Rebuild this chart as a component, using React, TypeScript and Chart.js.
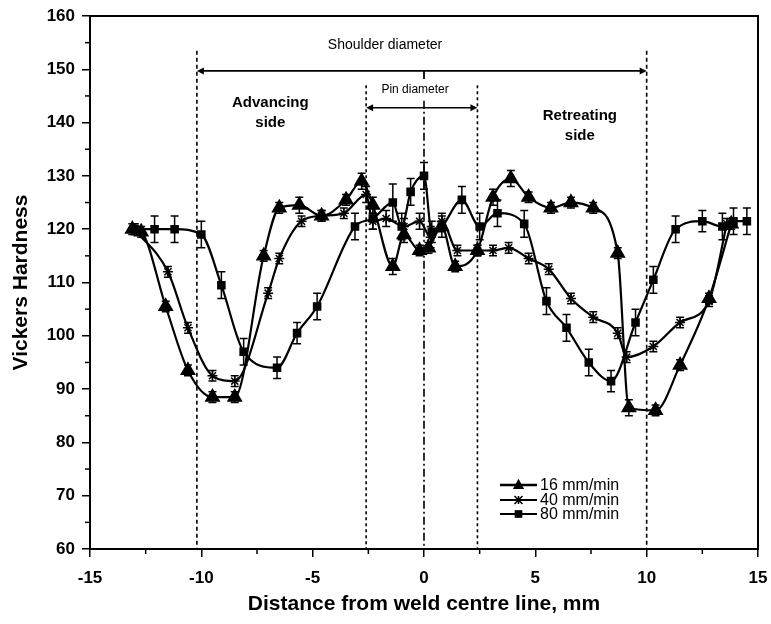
import React, { useEffect, useRef } from 'react';
import { Chart, registerables } from 'chart.js';

Chart.register(...registerables);

// ---- Data ----
const dist16 = [-13.1, -12.7, -11.6, -10.6, -9.5, -8.5, -7.2, -6.5, -5.6, -4.6, -3.5, -2.8, -2.3, -1.4, -0.9, -0.2, 0.2, 0.8, 1.4, 2.4, 3.1, 3.9, 4.7, 5.7, 6.6, 7.6, 8.7, 9.2, 10.4, 11.5, 12.8, 13.8];
const hv16 = [120, 119.5, 105.5, 93.5, 88.5, 88.5, 115, 124, 124.5, 122.5, 125.5, 129, 124.5, 113, 119, 116, 116.5, 120.5, 113, 116, 126, 129.5, 126, 124, 125, 124, 115.5, 86.5, 86, 94.5, 107, 121];
const sd16 = [1, 1, 1, 1, 1, 1, 1, 1, 1.5, 1, 1, 1.5, 1.5, 1.5, 1.5, 1, 1, 1, 1, 1, 1.5, 1.5, 1, 1, 1, 1, 1, 1.5, 1, 1, 1, 1];

const dist40 = [-13.0, -11.5, -10.6, -9.5, -8.5, -7.0, -6.5, -5.5, -4.6, -3.6, -2.6, -2.3, -1.7, -0.9, -0.2, 0.3, 0.8, 1.5, 2.4, 3.1, 3.8, 4.7, 5.6, 6.6, 7.6, 8.7, 9.1, 10.3, 11.5, 12.8, 13.6];
const hv40 = [120, 112, 101.5, 92.5, 91.5, 108, 114.5, 121.5, 122.5, 123, 126.5, 121.5, 122, 120.5, 121.5, 118.5, 121.5, 116, 116, 116, 116.5, 114.5, 112.5, 107, 103.5, 100.5, 96, 98, 102.5, 106.5, 121];
const sd40 = [1, 1, 1, 1, 1, 1, 1, 1, 1, 1, 1.5, 1.5, 1.5, 1.5, 1.5, 2, 1.5, 1, 1, 1, 1, 1, 1, 1, 1, 1, 1, 1, 1, 1, 1];

const dist80 = [-13.0, -12.1, -11.2, -10.0, -9.1, -8.1, -6.6, -5.7, -4.8, -3.1, -2.3, -1.4, -1.0, -0.6, 0.0, 0.35, 0.8, 1.7, 2.5, 3.3, 4.5, 5.5, 6.4, 7.4, 8.4, 9.5, 10.3, 11.3, 12.5, 13.4, 13.9, 14.5];
const hv80 = [120, 120, 120, 119, 109.5, 97, 94, 100.5, 105.5, 120.5, 122, 125, 120.5, 127, 130, 119.5, 120.5, 125.5, 120.5, 123, 121, 106.5, 101.5, 95, 91.5, 102.5, 110.5, 120, 121.5, 120.5, 121.5, 121.5];
const sd80 = [1, 2.5, 2.5, 2.5, 2.5, 2.5, 2, 2, 2.5, 2.5, 2, 3.5, 2.5, 2.5, 2.5, 2, 2, 2.5, 2.5, 2.5, 2.5, 2.5, 2.5, 2.5, 2, 2.5, 2.5, 2.5, 2, 2.5, 2.5, 2.5];

const seriesNames = ['16 mm/min', '40 mm/min', '80 mm/min'];

const xTicks = [-15, -10, -5, 0, 5, 10, 15];
const yTicks = [60, 70, 80, 90, 100, 110, 120, 130, 140, 150, 160];

// annotation geometry (data units)
const shoulderEdges = [-10.2, 10];
const pinEdges = [-2.6, 2.4];
const shoulderArrowY = 149.7;
const pinArrowY = 142.8;

const FONT = '"Liberation Sans", Arial, sans-serif';

function toPoints(xs: number[], ys: number[]) {
  return xs.map((x, i) => ({ x, y: ys[i] }));
}

const errorBarPlugin = {
  id: 'errorBars',
  afterDatasetsDraw(chart: any) {
    const { ctx } = chart;
    const ys = chart.scales.y;
    ctx.save();
    ctx.strokeStyle = '#000';
    ctx.lineWidth = 1.5;
    chart.data.datasets.forEach((ds: any, di: number) => {
      const meta = chart.getDatasetMeta(di);
      const errs: number[] = ds.errors || [];
      meta.data.forEach((pt: any, i: number) => {
        const e = errs[i];
        if (!e) return;
        const v = ds.data[i].y;
        const x = pt.x;
        const y1 = ys.getPixelForValue(v + e);
        const y2 = ys.getPixelForValue(v - e);
        ctx.beginPath();
        ctx.moveTo(x, y1); ctx.lineTo(x, y2);
        ctx.moveTo(x - 4, y1); ctx.lineTo(x + 4, y1);
        ctx.moveTo(x - 4, y2); ctx.lineTo(x + 4, y2);
        ctx.stroke();
      });
    });
    ctx.restore();
  },
};

function arrowHead(ctx: CanvasRenderingContext2D, x: number, y: number, dir: number) {
  ctx.beginPath();
  ctx.moveTo(x, y);
  ctx.lineTo(x - dir * 7, y - 3.5);
  ctx.lineTo(x - dir * 7, y + 3.5);
  ctx.closePath();
  ctx.fill();
}

const annotationPlugin = {
  id: 'annotations',
  beforeDatasetsDraw(chart: any) {
    const { ctx } = chart;
    const xs = chart.scales.x;
    const ys = chart.scales.y;
    const px = (v: number) => xs.getPixelForValue(v);
    const py = (v: number) => ys.getPixelForValue(v);
    ctx.save();
    ctx.strokeStyle = '#000';
    ctx.fillStyle = '#000';
    // shoulder dashed verticals
    ctx.lineWidth = 1.6;
    ctx.setLineDash([4, 3]);
    shoulderEdges.forEach((e) => {
      ctx.beginPath();
      ctx.moveTo(px(e), py(153.5));
      ctx.lineTo(px(e), py(60));
      ctx.stroke();
    });
    // pin dashed verticals
    ctx.setLineDash([3, 3]);
    pinEdges.forEach((e) => {
      ctx.beginPath();
      ctx.moveTo(px(e), py(147));
      ctx.lineTo(px(e), py(60));
      ctx.stroke();
    });
    // centre dash-dot line
    ctx.setLineDash([8, 3, 2, 3]);
    ctx.beginPath();
    ctx.moveTo(px(0), py(144.1));
    ctx.lineTo(px(0), py(60));
    ctx.stroke();
    ctx.setLineDash([]);
    // shoulder arrow
    ctx.lineWidth = 1.8;
    ctx.beginPath();
    ctx.moveTo(px(shoulderEdges[0]) + 3, py(shoulderArrowY));
    ctx.lineTo(px(shoulderEdges[1]) - 3, py(shoulderArrowY));
    ctx.stroke();
    arrowHead(ctx, px(shoulderEdges[0]), py(shoulderArrowY), -1);
    arrowHead(ctx, px(shoulderEdges[1]), py(shoulderArrowY), 1);
    ctx.beginPath();
    ctx.moveTo(px(0), py(shoulderArrowY));
    ctx.lineTo(px(0), py(shoulderArrowY) + 8);
    ctx.stroke();
    // pin arrow
    ctx.lineWidth = 1.6;
    ctx.beginPath();
    ctx.moveTo(px(pinEdges[0]) + 3, py(pinArrowY));
    ctx.lineTo(px(pinEdges[1]) - 3, py(pinArrowY));
    ctx.stroke();
    arrowHead(ctx, px(pinEdges[0]), py(pinArrowY), -1);
    arrowHead(ctx, px(pinEdges[1]), py(pinArrowY), 1);
    // texts
    ctx.textAlign = 'center';
    ctx.textBaseline = 'middle';
    ctx.font = `14px ${FONT}`;
    ctx.fillText('Shoulder diameter', px(-1.75), py(154.6));
    ctx.font = `12px ${FONT}`;
    ctx.fillText('Pin diameter', px(-0.4), py(146.1));
    ctx.font = `bold 15px ${FONT}`;
    ctx.fillText('Advancing', px(-6.9), py(143.7));
    ctx.fillText('side', px(-6.9), py(140));
    ctx.fillText('Retreating', px(7.0), py(141.3));
    ctx.fillText('side', px(7.0), py(137.5));
    ctx.restore();
  },
  afterDraw(chart: any) {
    const { ctx, chartArea } = chart;
    const xs = chart.scales.x;
    const ys = chart.scales.y;
    ctx.save();
    ctx.strokeStyle = '#000';
    // frame
    ctx.lineWidth = 2;
    ctx.strokeRect(chartArea.left, chartArea.top, chartArea.right - chartArea.left, chartArea.bottom - chartArea.top);
    // minor ticks
    ctx.lineWidth = 1.5;
    for (let v = 65; v < 160; v += 10) {
      const y = ys.getPixelForValue(v);
      ctx.beginPath();
      ctx.moveTo(chartArea.left - 5, y);
      ctx.lineTo(chartArea.left, y);
      ctx.stroke();
    }
    for (let v = -12.5; v < 15; v += 5) {
      const x = xs.getPixelForValue(v);
      ctx.beginPath();
      ctx.moveTo(x, chartArea.bottom);
      ctx.lineTo(x, chartArea.bottom + 5);
      ctx.stroke();
    }
    // legend
    const ds = chart.data.datasets;
    const lx0 = chartArea.left + 410;
    const lx1 = lx0 + 37;
    const rows = [chartArea.top + 469, chartArea.top + 484, chartArea.top + 498];
    ctx.font = `16px ${FONT}`;
    ctx.textAlign = 'left';
    ctx.textBaseline = 'middle';
    ctx.fillStyle = '#000';
    ds.forEach((d: any, i: number) => {
      const y = rows[i];
      ctx.lineWidth = i === 0 ? 2.5 : 2;
      ctx.beginPath();
      ctx.moveTo(lx0, y);
      ctx.lineTo(lx1, y);
      ctx.stroke();
      drawMarker(ctx, d.pointStyle, (lx0 + lx1) / 2, y, d.pointRadius);
      ctx.fillText(seriesNames[i], lx1 + 3, y + 1);
    });
    ctx.restore();
  },
};

function drawMarker(ctx: CanvasRenderingContext2D, style: string, x: number, y: number, r: number) {
  ctx.save();
  ctx.fillStyle = '#000';
  ctx.strokeStyle = '#000';
  ctx.lineWidth = 1.5;
  if (style === 'triangle') {
    const rr = r * 0.8;
    ctx.beginPath();
    ctx.moveTo(x, y - rr * 1.1);
    ctx.lineTo(x - rr, y + rr * 0.7);
    ctx.lineTo(x + rr, y + rr * 0.7);
    ctx.closePath();
    ctx.fill();
  } else if (style === 'rect') {
    const s = r * 0.85;
    ctx.fillRect(x - s, y - s, 2 * s, 2 * s);
  } else {
    const s = r * 0.8;
    ctx.beginPath();
    ctx.moveTo(x - s, y - s); ctx.lineTo(x + s, y + s);
    ctx.moveTo(x + s, y - s); ctx.lineTo(x - s, y + s);
    ctx.moveTo(x, y - s); ctx.lineTo(x, y + s);
    ctx.stroke();
  }
  ctx.restore();
}

export default function App() {
  const ref = useRef<HTMLCanvasElement | null>(null);
  useEffect(() => {
    if (!ref.current) return;
    const common = {
      borderColor: '#000',
      backgroundColor: '#000',
      pointBackgroundColor: '#000',
      pointBorderColor: '#000',
      borderWidth: 2.2,
      cubicInterpolationMode: 'monotone' as const,
      fill: false,
    };
    const chart = new Chart(ref.current, {
      type: 'line',
      data: {
        datasets: [
          { ...common, label: seriesNames[0], data: toPoints(dist16, hv16), errors: sd16, pointStyle: 'triangle', pointRadius: 7 } as any,
          { ...common, label: seriesNames[1], data: toPoints(dist40, hv40), errors: sd40, pointStyle: 'star', pointRadius: 5, pointBorderWidth: 1.5 } as any,
          { ...common, label: seriesNames[2], data: toPoints(dist80, hv80), errors: sd80, pointStyle: 'rect', pointRadius: 4.5 } as any,
        ],
      },
      options: {
        responsive: false,
        animation: false,
        devicePixelRatio: 1,
        layout: { padding: { left: 0, right: 13, top: 16, bottom: 0 } },
        plugins: { legend: { display: false }, tooltip: { enabled: false } },
        scales: {
          x: {
            type: 'linear',
            min: -15,
            max: 15,
            afterBuildTicks: (s: any) => { s.ticks = xTicks.map((v) => ({ value: v })); },
            afterFit: (s: any) => { s.height = 75; s.paddingLeft = 0; s.paddingRight = 0; },
            ticks: { color: '#000', padding: 11, font: { family: FONT, size: 17, weight: 'bold' } },
            grid: { drawOnChartArea: false, drawTicks: true, tickLength: 8, color: '#000', lineWidth: 1.5 },
            border: { display: true, color: '#000', width: 2 },
            title: { display: true, text: 'Distance from weld centre line, mm', color: '#000', font: { family: FONT, size: 21, weight: 'bold' }, padding: { top: 0, bottom: 7 } },
          },
          y: {
            type: 'linear',
            min: 60,
            max: 160,
            afterBuildTicks: (s: any) => { s.ticks = yTicks.map((v) => ({ value: v })); },
            afterFit: (s: any) => { s.width = 90; s.paddingTop = 0; s.paddingBottom = 0; },
            ticks: { color: '#000', padding: 7, font: { family: FONT, size: 17, weight: 'bold' } },
            grid: { drawOnChartArea: false, drawTicks: true, tickLength: 8, color: '#000', lineWidth: 1.5 },
            border: { display: true, color: '#000', width: 2 },
            title: { display: true, text: 'Vickers Hardness', color: '#000', font: { family: FONT, size: 21, weight: 'bold' }, padding: { top: 9, bottom: 0 } },
          },
        },
      } as any,
      plugins: [annotationPlugin, errorBarPlugin],
    });
    return () => chart.destroy();
  }, []);
  return (
    <div style={{ position: 'fixed', left: 0, top: 0, width: 771, height: 624, background: '#fff' }}>
      <canvas ref={ref} width={771} height={624} style={{ width: 771, height: 624, display: 'block' }} />
    </div>
  );
}
